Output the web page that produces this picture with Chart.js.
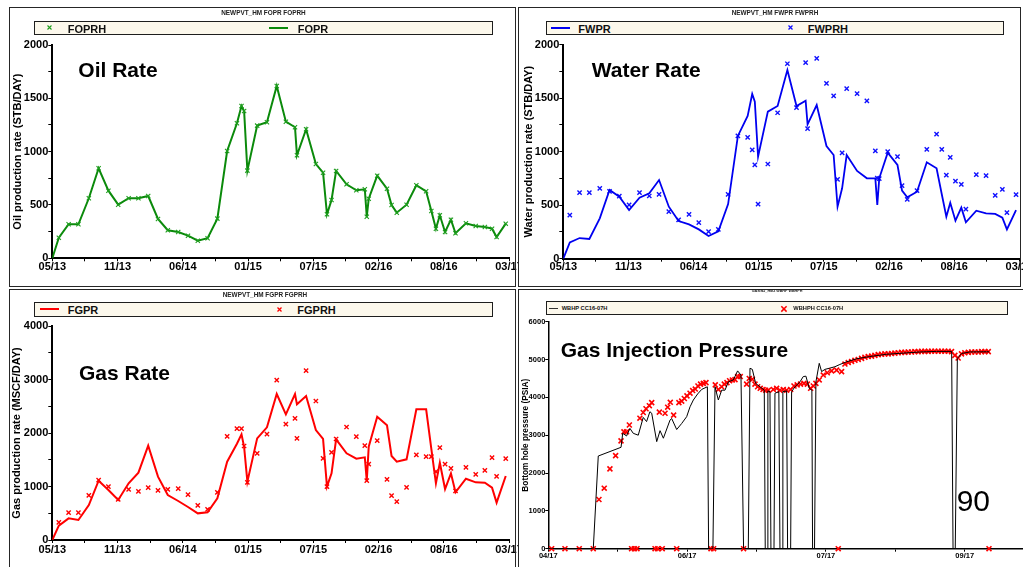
<!DOCTYPE html>
<html>
<head>
<meta charset="utf-8">
<title>History match plots</title>
<script src="https://cdn.jsdelivr.net/npm/chart.js@4.4.1/dist/chart.umd.min.js"></script>
<style>
  body { margin: 0; width: 1023px; height: 567px; overflow: hidden; background: #fff; position: relative;
         font-family: "Liberation Sans", Arial, Helvetica, sans-serif; }
  canvas { position: absolute; }
  .frame { position: absolute; border: 1.5px solid #262626; box-sizing: border-box; }
  .legend { position: absolute; border: 1.5px solid #1e1e1e; background: #fcf8ec; box-sizing: border-box; }
  .swatch { position: absolute; height: 2px; }
  .mark { position: absolute; overflow: visible; }
  .ltxt { position: absolute; font-weight: bold; line-height: 1; white-space: nowrap; color: #111; }
  .ctitle { position: absolute; width: 300px; text-align: center; font-weight: bold; line-height: 1; white-space: nowrap; color: #222; }
  .big { position: absolute; font-size: 21px; font-weight: bold; line-height: 1; white-space: nowrap; color: #000; }
</style>
</head>
<body>
<canvas id="oil"></canvas>
<canvas id="water"></canvas>
<canvas id="gas"></canvas>
<canvas id="bhp"></canvas>

<div class="frame" style="left:8.5px;top:6.5px;width:507px;height:280px"></div>
<div class="frame" style="left:517.5px;top:6.5px;width:503px;height:280px"></div>
<div class="frame" style="left:8.5px;top:288.5px;width:507px;height:290px"></div>
<div class="frame" style="left:517.5px;top:288.5px;width:520px;height:290px"></div>

<!-- oil panel header -->
<div class="ctitle" style="left:113.5px;top:10.3px;font-size:6.4px">NEWPVT_HM FOPR FOPRH</div>
<div class="legend" style="left:34px;top:20.5px;width:459px;height:14.5px"></div>
<svg class="mark" style="left:47px;top:25px" width="5" height="5"><path d="M0.5 0.5L4.5 4.5M4.5 0.5L0.5 4.5" stroke="#1e9e1e" stroke-width="1.1"/></svg>
<div class="ltxt" style="left:67.7px;top:24px;font-size:11px">FOPRH</div>
<div class="swatch" style="left:269px;top:26.5px;width:19px;background:#0b8a0b"></div>
<div class="ltxt" style="left:297.7px;top:24px;font-size:11px">FOPR</div>

<!-- water panel header -->
<div class="ctitle" style="left:625px;top:10.3px;font-size:6.4px">NEWPVT_HM FWPR FWPRH</div>
<div class="legend" style="left:545.7px;top:20.7px;width:458.3px;height:14px"></div>
<div class="swatch" style="left:551px;top:26.7px;width:19px;background:#0000f0"></div>
<div class="ltxt" style="left:578.3px;top:24px;font-size:11px">FWPR</div>
<svg class="mark" style="left:787.7px;top:25.4px" width="5" height="5"><path d="M0.5 0.5L4.5 4.5M4.5 0.5L0.5 4.5" stroke="#1010ff" stroke-width="1.3"/></svg>
<div class="ltxt" style="left:807.7px;top:24px;font-size:11px">FWPRH</div>

<!-- gas panel header -->
<div class="ctitle" style="left:115px;top:291.9px;font-size:6.4px">NEWPVT_HM FGPR FGPRH</div>
<div class="legend" style="left:34px;top:302px;width:459px;height:14.7px"></div>
<div class="swatch" style="left:40px;top:308.3px;width:19.3px;background:#ff0000"></div>
<div class="ltxt" style="left:67.7px;top:305px;font-size:11px">FGPR</div>
<svg class="mark" style="left:277px;top:307px" width="5" height="5"><path d="M0.5 0.5L4.5 4.5M4.5 0.5L0.5 4.5" stroke="#ff0000" stroke-width="1.3"/></svg>
<div class="ltxt" style="left:297.3px;top:305px;font-size:11px">FGPRH</div>

<!-- injection pressure panel header -->
<div class="ctitle" style="left:627px;top:289.6px;font-size:3.7px">GASINJ_HM2 WBHP WBHPH</div>
<div class="legend" style="left:545.7px;top:300.7px;width:462px;height:14.3px"></div>
<div class="swatch" style="left:549px;top:307.5px;width:8.7px;height:1.5px;background:#333"></div>
<div class="ltxt" style="left:561.7px;top:305.9px;font-size:5.7px">WBHP CC16-07H</div>
<svg class="mark" style="left:781.3px;top:305.6px" width="6" height="6"><path d="M0.3 0.3L5.6 5.6M5.6 0.3L0.3 5.6" stroke="#ff0000" stroke-width="1.5"/></svg>
<div class="ltxt" style="left:793.3px;top:305.9px;font-size:5.7px">WBHPH CC16-07H</div>

<div class="big" style="left:78.3px;top:58.9px">Oil Rate</div>
<div class="big" style="left:591.7px;top:58.9px">Water Rate</div>
<div class="big" style="left:79px;top:362.2px">Gas Rate</div>
<div class="big" style="left:560.7px;top:338.9px">Gas Injection Pressure</div>
<div class="big" style="left:956.7px;top:486.3px;font-size:30px;font-weight:normal">90</div>

<script>
const FONT = '"Liberation Sans", Arial, Helvetica, sans-serif';

// report steps shared by the three rate plots, measured in label intervals from 05/13
const reportSteps = [0, 0.10, 0.25, 0.40, 0.56, 0.71, 0.86, 1.01, 1.17, 1.32,
  1.47, 1.62, 1.77, 1.93, 2.08, 2.23, 2.38, 2.53, 2.68, 2.83,
  2.90, 2.94, 2.99, 3.14, 3.29, 3.44, 3.58, 3.72, 3.75, 3.89,
  4.04, 4.15, 4.21, 4.28, 4.35, 4.51, 4.66, 4.79, 4.82, 4.85,
  4.98, 5.13, 5.20, 5.28, 5.43, 5.58, 5.73, 5.81, 5.88, 5.94,
  6.02, 6.11, 6.18, 6.34, 6.49, 6.63, 6.74, 6.81, 6.95];
const rateTickLabels = ['05/13', '11/13', '06/14', '01/15', '07/15', '02/16', '08/16', '03/17'];

// STB/DAY
const foprSim = [0, 193, 319, 319, 563, 844, 634, 503, 563, 563,
  584, 369, 263, 247, 212, 165, 188, 372, 1006, 1266,
  1428, 1381, 822, 1244, 1275, 1616, 1281, 1229, 966, 1210,
  884, 803, 413, 547, 819, 694, 638, 647, 390, 559,
  775, 653, 500, 428, 503, 685, 628, 444, 278, 403,
  247, 362, 235, 328, 303, 294, 278, 200, 325];
const foprObs = [null, 193, 319, 319, 563, 844, 634, 503, 563, 563,
  584, 369, 263, 247, 212, 165, 188, 372, 1006, 1266,
  1428, 1381, 822, 1244, 1275, 1616, 1281, 1229, 966, 1210,
  884, 803, 413, 547, 819, 694, 638, 647, 390, 559,
  775, 653, 500, 428, 503, 685, 628, 444, 278, 403,
  247, 362, 235, 328, 303, 294, 278, 200, 325];

// STB/DAY
const fwprSim = [0, 153, 193, 184, 377, 642, 580, 455, 570, 611,
  735, 486, 352, 321, 274, 212, 256, 511, 1147, 1334,
  1539, 1467, 953, 1374, 1427, 1763, 1427, 1477, 1256, 1436,
  1053, 969, 486, 658, 969, 820, 751, 751, 502, 751,
  991, 876, 636, 574, 626, 901, 845, 602, 393, 523,
  355, 477, 340, 449, 424, 418, 383, 274, 455];
const fwprObs = [null, 408, 617, 617, 658, 630, 585, 502, 617, 586,
  601, 440, 362, 415, 337, 252, 274, 601, 1147, 1134,
  1016, 876, 511, 885, 1364, 1822, 1411, 1832, 1215, 1873,
  1639, 1521, 742, 988, 1589, 1542, 1474, 1007, 754, 748,
  1000, 953, 682, 555, 636, 1022, 1165, 1022, 782, 947,
  726, 695, 464, 785, 776, 592, 648, 430, 598];

// MSCF/DAY
const fgprSim = [0, 268, 405, 374, 654, 1109, 935, 748, 1059, 1258,
  1763, 1184, 841, 729, 617, 498, 517, 779, 1464, 1800,
  1975, 1740, 1090, 1900, 2106, 2729, 2349, 2729, 2536, 2691,
  2056, 1888, 997, 1246, 1881, 1620, 1520, 1545, 1103, 1744,
  2305, 2143, 1570, 1464, 1508, 2442, 2442, 1700, 1059, 1445,
  953, 1246, 891, 1146, 1078, 1072, 978, 698, 1196];
const fgprObs = [null, 330, 511, 511, 835, 1121, 997, 760, 947, 910,
  978, 928, 947, 959, 847, 648, 573, 891, 1938, 2081,
  2081, 1757, 1078, 1620, 1981, 2990, 2168, 2274, 1900, 3165,
  2598, 1526, 997, 1638, 1888, 2112, 1931, 1763, 1109, 1420,
  1857, 1134, 829, 716, 984, 1589, 1558, 1558, 1277, 1726,
  1420, 1339, 916, 1358, 1227, 1302, 1539, 1190, 1520];

// injector CC16-07H, positions in label intervals from 04/17
const injTickLabels = ['04/17', '06/17', '07/17', '09/17'];
const wbhpSteps = [0, 0.324, 0.36, 0.524, 0.536, 0.564, 0.588, 0.612, 0.648, 0.684,
  0.708, 0.732, 0.745, 0.781, 0.805, 0.829, 0.877, 0.889, 0.925, 0.961,
  0.997, 1.021, 1.045, 1.076, 1.105, 1.146, 1.155, 1.186, 1.201, 1.225,
  1.249, 1.273, 1.297, 1.333, 1.364, 1.388, 1.407, 1.441, 1.453, 1.470,
  1.494, 1.525, 1.556, 1.563, 1.578, 1.582, 1.597, 1.604, 1.626, 1.633,
  1.661, 1.669, 1.686, 1.690, 1.717, 1.724, 1.746, 1.753, 1.777, 1.813,
  1.837, 1.856, 1.880, 1.899, 1.904, 1.918, 1.928, 1.952, 1.969, 1.993,
  2.025, 2.065, 2.101, 2.149, 2.221, 2.317, 2.437, 2.558, 2.678, 2.798,
  2.906, 2.916, 2.932, 2.947, 2.978, 3.038, 3.159, 3.177];
const wbhpSim = [0, 0, 2450, 2680, 3050, 2980, 3180, 3050, 3000, 3470,
  3360, 3620, 3580, 2830, 3120, 2920, 3400, 3440, 3150, 3310,
  3490, 3750, 3930, 4090, 4210, 4280, 0, 0, 4280, 3930,
  4190, 4190, 4410, 4460, 4700, 4590, 0, 0, 4770, 4740,
  4370, 4280, 4190, 0, 0, 4170, 4150, 0, 0, 4110,
  4150, 0, 0, 4150, 4170, 0, 0, 4150, 4280, 4410,
  4550, 4560, 4240, 4190, 0, 0, 4410, 4900, 4680, 4740,
  4770, 4810, 4870, 4940, 5020, 5080, 5140, 5170, 5200, 5215,
  5215, 0, 0, 5030, 5160, 5200, 5205, 5205];

const wbhphSteps = [0.024, 0.12, 0.223, 0.324, 0.365, 0.403, 0.444, 0.485, 0.524, 0.545,
  0.564, 0.584, 0.6, 0.62, 0.639, 0.66, 0.684, 0.704, 0.728, 0.745,
  0.769, 0.788, 0.8, 0.821, 0.841, 0.86, 0.879, 0.903, 0.925, 0.941,
  0.961, 0.98, 0.999, 1.021, 1.04, 1.059, 1.078, 1.097, 1.117, 1.136,
  1.172, 1.191, 1.203, 1.225, 1.249, 1.268, 1.287, 1.306, 1.326, 1.345,
  1.364, 1.383, 1.407, 1.429, 1.448, 1.47, 1.489, 1.508, 1.527, 1.547,
  1.566, 1.585, 1.621, 1.645, 1.669, 1.693, 1.717, 1.746, 1.77, 1.793,
  1.817, 1.842, 1.866, 1.89, 1.909, 1.928, 1.952, 1.981, 2.01, 2.041,
  2.077, 2.089, 2.113, 2.137, 2.161, 2.185, 2.209, 2.233, 2.257, 2.281,
  2.305, 2.329, 2.353, 2.377, 2.401, 2.425, 2.449, 2.473, 2.497, 2.521,
  2.545, 2.569, 2.593, 2.617, 2.641, 2.665, 2.689, 2.713, 2.737, 2.761,
  2.785, 2.809, 2.833, 2.857, 2.881, 2.905, 2.929, 2.953, 2.977, 3.001,
  3.026, 3.05, 3.074, 3.098, 3.122, 3.146, 3.17, 3.175];
const wbhpObs = [0, 0, 0, 0, 1300, 1600, 2110, 2460, 2850, 3090,
  3090, 3270, 0, 0, 0, 3450, 3600, 3700, 3780, 3860,
  0, 0, 3610, 0, 3580, 3740, 3870, 3530, 0, 3860,
  3900, 3970, 4040, 4110, 4180, 4220, 4300, 4350, 4370, 4390,
  0, 0, 4330, 4210, 4280, 4350, 4390, 4440, 4460, 4470,
  4550, 4550, 0, 4350, 4500, 4480, 4350, 4280, 4240, 4210,
  4190, 4190, 4210, 4240, 4190, 4210, 4190, 4210, 4300, 4330,
  4350, 4370, 4350, 4240, 4300, 4370, 4460, 4590, 4650, 4700,
  4720, 0, 4680, 4880, 4920, 4950, 4980, 5000, 5030, 5060,
  5080, 5090, 5110, 5130, 5140, 5150, 5150, 5160, 5170, 5180,
  5190, 5190, 5200, 5200, 5210, 5210, 5215, 5215, 5215, 5220,
  5220, 5220, 5220, 5220, 5220, 5210, 5110, 5040, 5150, 5180,
  5190, 5200, 5200, 5200, 5210, 5210, 5210, 0];

function points(xs, ys) {
  return xs.map((x, i) => ({ x, y: ys[i] })).filter(p => p.y !== null);
}

function simLine(label, data, color, width) {
  return { label, data, borderColor: color, borderWidth: width, pointRadius: 0, tension: 0, fill: false };
}

function obsMarks(label, data, color, radius, width) {
  return { label, data, showLine: false, pointStyle: 'crossRot', pointRadius: radius,
           pointBorderWidth: width, pointBorderColor: color, pointBackgroundColor: color, clip: false };
}

// box: canvas placement on the page, plot: wanted chart area in page pixels
function makePanel(id, box, plot, xo, yo, datasets) {
  const cv = document.getElementById(id);
  cv.style.left = box.left + 'px';
  cv.style.top = box.top + 'px';
  cv.width = box.width;
  cv.height = box.height;
  const yWidth = plot.left - box.left;
  const isMajor = v => Math.abs(v - Math.round(v)) < 1e-6;
  return new Chart(cv, {
    type: 'line',
    data: { datasets },
    options: {
      responsive: false,
      animation: false,
      devicePixelRatio: 1,
      layout: {
        autoPadding: false,
        padding: {
          left: 0,
          top: plot.top - box.top,
          right: box.left + box.width - plot.right,
          bottom: box.top + box.height - plot.bottom - xo.height
        }
      },
      plugins: { legend: { display: false }, tooltip: { enabled: false } },
      scales: {
        x: {
          type: 'linear', min: 0, max: xo.max,
          border: { color: '#000', width: xo.line },
          grid: { drawOnChartArea: false, drawTicks: true, tickLength: xo.tick, tickColor: '#000', tickWidth: 1 },
          ticks: {
            stepSize: 0.5, autoSkip: false, maxRotation: 0, padding: xo.pad, color: '#000',
            font: { family: FONT, size: xo.font, weight: 'bold', lineHeight: 1 },
            callback: v => isMajor(v) ? (xo.labels[Math.round(v)] || '') : ''
          },
          afterFit: s => { s.height = xo.height; s.paddingLeft = 0; s.paddingRight = 0; }
        },
        y: {
          min: 0, max: yo.max,
          border: { color: '#000', width: xo.line },
          grid: { drawOnChartArea: false, drawTicks: true, tickLength: yo.tick, tickColor: '#000', tickWidth: 1 },
          ticks: {
            stepSize: yo.step, autoSkip: false, padding: 0, color: '#000',
            font: { family: FONT, size: yo.font, weight: 'bold', lineHeight: 1 },
            callback: v => v % yo.labelEvery === 0 ? String(v) : ''
          },
          title: {
            display: true, text: yo.title, color: '#000',
            font: { family: FONT, size: yo.titleSize, weight: 'bold', lineHeight: 1.2 },
            padding: { top: yo.titlePad, bottom: 0 }
          },
          afterFit: s => { s.width = yWidth; s.paddingTop = 0; s.paddingBottom = 0; }
        }
      }
    }
  });
}

const rateX = { max: 7, labels: rateTickLabels, height: 22, tick: 3, pad: 0, font: 11, line: 2 };

makePanel('oil',
  { left: 0, top: 0, width: 518, height: 287 },
  { left: 52.3, top: 45, right: 509, bottom: 258.3 },
  rateX,
  { max: 2000, step: 250, labelEvery: 500, tick: 4, font: 11,
    title: 'Oil production rate (STB/DAY)', titleSize: 11, titlePad: 11 },
  [obsMarks('FOPRH', points(reportSteps, foprObs), '#1e9e1e', 3, 1.1),
   simLine('FOPR', points(reportSteps, foprSim), '#0b8a0b', 2)]);

makePanel('water',
  { left: 511, top: 0, width: 512, height: 287 },
  { left: 563.3, top: 44.7, right: 1019.3, bottom: 258.7 },
  rateX,
  { max: 2000, step: 250, labelEvery: 500, tick: 4, font: 11,
    title: 'Water production rate (STB/DAY)', titleSize: 11, titlePad: 11 },
  [simLine('FWPR', points(reportSteps, fwprSim), '#0000f0', 1.8),
   obsMarks('FWPRH', points(reportSteps, fwprObs), '#1010ff', 3, 1.4)]);

makePanel('gas',
  { left: 0, top: 287, width: 518, height: 280 },
  { left: 52.3, top: 326, right: 509, bottom: 540 },
  Object.assign({}, rateX, { pad: 1.5 }),
  { max: 4000, step: 500, labelEvery: 1000, tick: 4, font: 11,
    title: 'Gas production rate (MSCF/DAY)', titleSize: 11, titlePad: 10.5 },
  [simLine('FGPR', points(reportSteps, fgprSim), '#ff0000', 2),
   obsMarks('FGPRH', points(reportSteps, fgprObs), '#ff0000', 3, 1.4)]);

makePanel('bhp',
  { left: 511, top: 287, width: 512, height: 280 },
  { left: 548.3, top: 321.7, right: 1023, bottom: 548.7 },
  { max: 3.42, labels: injTickLabels, height: 14, tick: 3, pad: 0, font: 7.5, line: 1.5 },
  { max: 6000, step: 1000, labelEvery: 1000, tick: 3, font: 7.5,
    title: 'Bottom hole pressure (PSIA)', titleSize: 8.3, titlePad: 10 },
  [simLine('WBHP CC16-07H', points(wbhpSteps, wbhpSim), '#000', 1),
   obsMarks('WBHPH CC16-07H', points(wbhphSteps, wbhpObs), '#ff0000', 3.5, 1.6)]);
</script>
</body>
</html>
